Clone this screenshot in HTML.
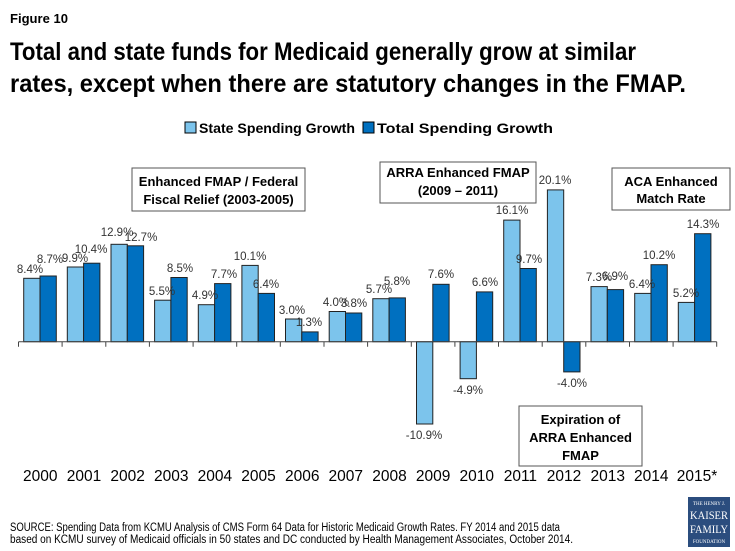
<!DOCTYPE html>
<html><head><meta charset="utf-8"><style>
html,body{margin:0;padding:0;background:#fff;}
svg{display:block;font-family:"Liberation Sans",sans-serif;}
</style></head><body>
<svg width="735" height="551" viewBox="0 0 735 551" xmlns="http://www.w3.org/2000/svg">
<text x="10" y="23" font-size="12.5" font-weight="bold" textLength="58" lengthAdjust="spacingAndGlyphs">Figure 10</text>
<text x="10" y="60" font-size="25" font-weight="bold" textLength="626" lengthAdjust="spacingAndGlyphs">Total and state funds for Medicaid generally grow at similar</text>
<text x="10" y="92" font-size="25" font-weight="bold" textLength="676" lengthAdjust="spacingAndGlyphs">rates, except when there are statutory changes in the FMAP.</text>
<rect x="185" y="122" width="11" height="11" fill="#7cc4ec" stroke="#000" stroke-width="1"/>
<text x="199" y="133" font-size="14" font-weight="bold" textLength="156" lengthAdjust="spacingAndGlyphs">State Spending Growth</text>
<rect x="363" y="122" width="11" height="11" fill="#0070c0" stroke="#000" stroke-width="1"/>
<text x="377" y="133" font-size="14" font-weight="bold" textLength="176" lengthAdjust="spacingAndGlyphs">Total Spending Growth</text>

<g stroke="#222" stroke-width="1">
<g fill="#7cc4ec">
<rect x="23.7" y="278.3" width="16.3" height="63.4"/>
<rect x="67.3" y="267.0" width="16.3" height="74.7"/>
<rect x="111.0" y="244.3" width="16.3" height="97.4"/>
<rect x="154.6" y="300.2" width="16.3" height="41.5"/>
<rect x="198.3" y="304.7" width="16.3" height="37.0"/>
<rect x="241.9" y="265.4" width="16.3" height="76.3"/>
<rect x="285.5" y="319.0" width="16.3" height="22.7"/>
<rect x="329.2" y="311.5" width="16.3" height="30.2"/>
<rect x="372.8" y="298.7" width="16.3" height="43.0"/>
<rect x="416.5" y="341.7" width="16.3" height="82.3"/>
<rect x="460.1" y="341.7" width="16.3" height="37.0"/>
<rect x="503.7" y="220.1" width="16.3" height="121.6"/>
<rect x="547.4" y="189.9" width="16.3" height="151.8"/>
<rect x="591.0" y="286.6" width="16.3" height="55.1"/>
<rect x="634.7" y="293.4" width="16.3" height="48.3"/>
<rect x="678.3" y="302.4" width="16.3" height="39.3"/>
</g>
<g fill="#0070c0">
<rect x="40.0" y="276.0" width="16.3" height="65.7"/>
<rect x="83.6" y="263.2" width="16.3" height="78.5"/>
<rect x="127.3" y="245.8" width="16.3" height="95.9"/>
<rect x="170.9" y="277.5" width="16.3" height="64.2"/>
<rect x="214.6" y="283.6" width="16.3" height="58.1"/>
<rect x="258.2" y="293.4" width="16.3" height="48.3"/>
<rect x="301.8" y="331.9" width="16.3" height="9.8"/>
<rect x="345.5" y="313.0" width="16.3" height="28.7"/>
<rect x="389.1" y="297.9" width="16.3" height="43.8"/>
<rect x="432.8" y="284.3" width="16.3" height="57.4"/>
<rect x="476.4" y="291.9" width="16.3" height="49.8"/>
<rect x="520.0" y="268.5" width="16.3" height="73.2"/>
<rect x="563.7" y="341.7" width="16.3" height="30.2"/>
<rect x="607.3" y="289.6" width="16.3" height="52.1"/>
<rect x="651.0" y="264.7" width="16.3" height="77.0"/>
<rect x="694.6" y="233.7" width="16.3" height="108.0"/>
</g>
</g>
<g stroke="#444" stroke-width="1">
<line x1="18.5" y1="341.7" x2="716.7" y2="341.7"/>
<path d="M18.5 341.7v5M62.1 341.7v5M105.8 341.7v5M149.4 341.7v5M193.1 341.7v5M236.7 341.7v5M280.3 341.7v5M324 341.7v5M367.6 341.7v5M411.3 341.7v5M454.9 341.7v5M498.5 341.7v5M542.2 341.7v5M585.8 341.7v5M629.5 341.7v5M673.1 341.7v5M716.7 341.7v5"/>
</g>

<g font-size="11.5" fill="#333" text-anchor="middle">
<text x="30" y="273">8.4%</text><text x="50" y="263">8.7%</text>
<text x="75" y="262">9.9%</text><text x="91" y="253">10.4%</text>
<text x="117" y="236">12.9%</text><text x="141" y="241">12.7%</text>
<text x="162" y="295">5.5%</text><text x="180" y="272">8.5%</text>
<text x="205" y="299">4.9%</text><text x="224" y="278">7.7%</text>
<text x="250" y="260">10.1%</text><text x="266" y="288">6.4%</text>
<text x="292" y="314">3.0%</text><text x="309" y="326">1.3%</text>
<text x="336" y="306">4.0%</text><text x="354" y="307">3.8%</text>
<text x="379" y="293">5.7%</text><text x="397" y="285">5.8%</text>
<text x="424" y="439">-10.9%</text><text x="441" y="278">7.6%</text>
<text x="468" y="394">-4.9%</text><text x="485" y="286">6.6%</text>
<text x="512" y="214">16.1%</text><text x="529" y="263">9.7%</text>
<text x="555" y="184">20.1%</text><text x="572" y="387">-4.0%</text>
<text x="599" y="281">7.3%</text><text x="615" y="280">6.9%</text>
<text x="642" y="288">6.4%</text><text x="659" y="259">10.2%</text>
<text x="686" y="297">5.2%</text><text x="703" y="228">14.3%</text>
</g>

<g fill="#fff" stroke="#555" stroke-width="1">
<rect x="132" y="168" width="173" height="43"/>
<rect x="380" y="162" width="156" height="41"/>
<rect x="612" y="168" width="118" height="42"/>
<rect x="519" y="406" width="123" height="60"/>
</g>
<g font-size="13" font-weight="bold" text-anchor="middle">
<text x="218.5" y="186">Enhanced FMAP / Federal</text>
<text x="218.5" y="204">Fiscal Relief (2003-2005)</text>
<text x="458" y="177">ARRA Enhanced FMAP</text>
<text x="458" y="195">(2009 – 2011)</text>
<text x="671" y="186">ACA Enhanced</text>
<text x="671" y="203">Match Rate</text>
<text x="580.5" y="424">Expiration of</text>
<text x="580.5" y="442">ARRA Enhanced</text>
<text x="580.5" y="460">FMAP</text>
</g>

<g font-size="15.5" text-anchor="middle">
<text x="40.3" y="481">2000</text><text x="84" y="481">2001</text><text x="127.6" y="481">2002</text><text x="171.3" y="481">2003</text>
<text x="214.9" y="481">2004</text><text x="258.5" y="481">2005</text><text x="302.2" y="481">2006</text><text x="345.8" y="481">2007</text>
<text x="389.5" y="481">2008</text><text x="433.1" y="481">2009</text><text x="476.7" y="481">2010</text><text x="520.4" y="481">2011</text>
<text x="564" y="481">2012</text><text x="607.7" y="481">2013</text><text x="651.3" y="481">2014</text><text x="697" y="481">2015*</text>
</g>

<text x="10" y="531" font-size="11.5" textLength="550" lengthAdjust="spacingAndGlyphs">SOURCE: Spending Data from KCMU Analysis of CMS Form 64 Data for Historic Medicaid Growth Rates.  FY 2014 and 2015 data</text>
<text x="10" y="543" font-size="11.5" textLength="563" lengthAdjust="spacingAndGlyphs">based on KCMU survey of Medicaid officials in 50 states and DC conducted by Health Management Associates, October 2014.</text>

<rect x="688" y="497" width="42" height="50" fill="#2b4d7e"/>
<g fill="#fff" text-anchor="middle" font-family="Liberation Serif,serif">
<text x="709" y="505" font-size="5">THE HENRY J.</text>
<text x="709" y="519" font-size="11.5" textLength="38" lengthAdjust="spacingAndGlyphs">KAISER</text>
<text x="709" y="533" font-size="11.5" textLength="38" lengthAdjust="spacingAndGlyphs">FAMILY</text>
<text x="709" y="543" font-size="5">FOUNDATION</text>
</g>
</svg>
</body></html>
